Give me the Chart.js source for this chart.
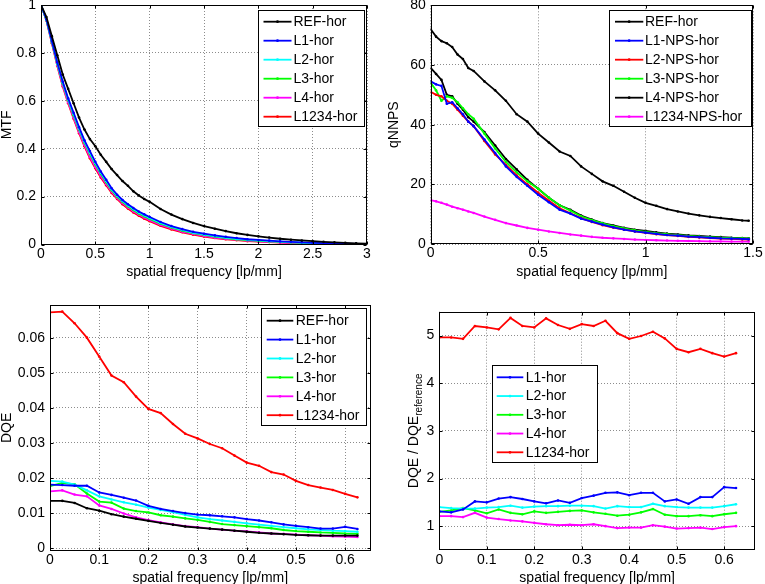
<!DOCTYPE html>
<html><head><meta charset="utf-8">
<script src="https://cdn.jsdelivr.net/npm/chart.js@4.4.0/dist/chart.umd.min.js"></script>
<style>
html,body{margin:0;padding:0;background:#fff;overflow:hidden;width:765px;height:584px;position:relative}
canvas{position:absolute}
</style></head><body>
<canvas id="c1" width="383" height="290" style="left:0px;top:0px"></canvas>
<canvas id="c2" width="382" height="290" style="left:383px;top:0px"></canvas>
<canvas id="c3" width="383" height="310" style="left:0px;top:290px"></canvas>
<canvas id="c4" width="382" height="310" style="left:383px;top:290px"></canvas>
<script>
// ---------------- DATA ----------------
// Panel 1: MTF
const mtfFreq = [0,0.05,0.1,0.15,0.2,0.25,0.3,0.35,0.4,0.45,0.5,0.55,0.6,0.65,0.7,0.75,0.8,0.85,0.9,0.95,1.0,
  1.1,1.2,1.3,1.4,1.5,1.6,1.7,1.8,1.9,2.0,2.1,2.2,2.3,2.4,2.5,2.6,2.7,2.8,2.9,3.0];
const mtfREF = [1,0.95,0.87,0.79,0.71,0.65,0.59,0.53,0.48,0.44,0.41,0.375,0.345,0.315,0.29,0.265,0.245,0.222,0.205,0.19,0.178,
  0.148,0.125,0.106,0.09,0.077,0.066,0.056,0.047,0.04,0.034,0.029,0.024,0.02,0.017,0.014,0.011,0.009,0.007,0.005,0.004];
const mtfL1 = [1,0.94,0.85,0.76,0.68,0.61,0.55,0.49,0.435,0.39,0.345,0.305,0.27,0.235,0.208,0.186,0.168,0.152,0.138,0.126,0.115,
  0.094,0.077,0.064,0.053,0.045,0.038,0.032,0.027,0.022,0.019,0.016,0.013,0.011,0.009,0.007,0.006,0.005,0.004,0.003,0.002];
const mtfL2 = [1,0.938,0.848,0.757,0.676,0.606,0.545,0.485,0.43,0.384,0.34,0.3,0.265,0.231,0.204,0.182,0.164,0.148,0.134,0.122,0.111,
  0.09,0.074,0.061,0.05,0.042,0.035,0.029,0.024,0.02,0.017,0.014,0.012,0.01,0.008,0.006,0.005,0.004,0.003,0.003,0.002];
const mtfL3 = [1,0.937,0.846,0.754,0.672,0.602,0.54,0.48,0.425,0.378,0.335,0.295,0.26,0.227,0.2,0.178,0.16,0.144,0.13,0.118,0.107,
  0.087,0.071,0.058,0.048,0.04,0.033,0.027,0.022,0.018,0.015,0.013,0.011,0.009,0.007,0.006,0.005,0.004,0.003,0.002,0.002];
const mtfL4 = [1,0.936,0.842,0.748,0.664,0.594,0.53,0.47,0.416,0.366,0.324,0.286,0.253,0.221,0.195,0.173,0.155,0.139,0.125,0.113,0.102,
  0.082,0.067,0.054,0.044,0.036,0.029,0.024,0.02,0.016,0.013,0.011,0.009,0.007,0.006,0.005,0.004,0.003,0.003,0.002,0.002];
const mtfL1234 = [1,0.935,0.84,0.745,0.66,0.59,0.525,0.465,0.41,0.36,0.318,0.28,0.247,0.215,0.19,0.168,0.15,0.134,0.12,0.108,0.097,
  0.078,0.063,0.051,0.041,0.033,0.027,0.022,0.018,0.014,0.012,0.01,0.008,0.006,0.005,0.004,0.003,0.003,0.002,0.002,0.001];

// Panel 2: qNNPS
const npsFreq = [0,0.025,0.05,0.075,0.1,0.125,0.15,0.175,0.2,0.25,0.3,0.35,0.4,0.45,0.5,0.55,0.6,0.65,0.7,0.75,0.8,0.85,0.9,0.95,1.0,
  1.05,1.1,1.15,1.2,1.25,1.3,1.35,1.4,1.45,1.48];
const npsREF = [72,69.5,68,67.3,66,63.5,62,59,58,54.5,51.5,48,43.5,41,37,34,31,29.5,26,23.5,21,19.5,17.5,15.5,13.8,
  12.8,11.7,10.9,10.2,9.6,9.1,8.7,8.3,7.9,7.8];
const npsL1 = [54.5,53.5,53,47,47.5,45.5,43.5,41,39.5,35,30.5,26,22.5,19.5,16.5,14,11.5,10.2,8.5,7.5,6.5,5.6,4.8,4.2,3.8,
  3.4,3.0,2.8,2.5,2.3,2.1,1.9,1.8,1.7,1.6];
const npsL2 = [51,50,49.5,48,47,45,43,41,39.5,34.5,30,26.5,23,20,17.2,14.5,12,10.3,8.7,7.4,6.3,5.5,4.8,4.2,3.7,
  3.3,3.0,2.7,2.4,2.2,2.0,1.8,1.7,1.6,1.5];
const npsL3 = [54,51.5,48,49.5,49,47.5,45.5,43.5,42,37,32,27.5,24,21,18.5,15.5,13,11.2,9.3,8,6.9,6.0,5.2,4.6,4.1,
  3.6,3.3,3.0,2.7,2.5,2.3,2.1,2.0,1.9,1.8];
const npsL4 = [59,57,55,50,49.5,47,45,42.5,41,37.5,33,28.5,25,21.5,18.5,15.5,13,11.5,9.5,8.2,7,6.2,5.4,4.8,4.4,
  3.9,3.5,3.2,2.9,2.7,2.5,2.3,2.1,2.0,1.9];
const npsL1234 = [14.7,14.3,13.8,13.2,12.5,12.0,11.5,10.9,10.4,9.2,8.1,7.0,6.2,5.4,4.8,4.2,3.7,3.2,2.8,2.4,2.1,1.9,1.7,1.5,1.35,
  1.25,1.15,1.05,1.0,0.95,0.9,0.85,0.8,0.8,0.8];

// Panel 3: DQE
const dqeFreq = [0,0.025,0.05,0.075,0.1,0.125,0.15,0.175,0.2,0.225,0.25,0.275,0.3,0.325,0.35,0.375,0.4,0.425,0.45,0.475,0.5,0.525,0.55,0.575,0.6,0.625];
const dqeREF = [0.0135,0.0135,0.0129,0.0114,0.0107,0.0097,0.0090,0.0084,0.0078,0.0072,0.0067,0.0062,0.0059,0.0056,0.0053,0.0050,0.0047,0.0044,0.0042,0.0040,0.0038,0.0037,0.0036,0.0036,0.0036,0.0036];
const dqeL1 = [0.0181,0.0180,0.0178,0.0178,0.0159,0.0152,0.0144,0.0136,0.0121,0.0112,0.0106,0.0100,0.0096,0.0094,0.0091,0.0088,0.0083,0.0079,0.0074,0.0068,0.0064,0.0060,0.0056,0.0056,0.0061,0.0055];
const dqeL2 = [0.0192,0.0190,0.0181,0.0165,0.0148,0.0139,0.0131,0.0124,0.0116,0.0109,0.0103,0.0095,0.0088,0.0083,0.0079,0.0075,0.0071,0.0067,0.0064,0.0060,0.0057,0.0054,0.0052,0.0050,0.0049,0.0047];
const dqeL3 = [0.0177,0.0186,0.0182,0.0156,0.0133,0.0130,0.0113,0.0106,0.0102,0.0094,0.0090,0.0085,0.0081,0.0075,0.0069,0.0066,0.0063,0.0060,0.0057,0.0052,0.0049,0.0047,0.0045,0.0044,0.0042,0.0041];
const dqeL4 = [0.0162,0.0165,0.0153,0.0148,0.0122,0.0112,0.0099,0.0088,0.0080,0.0074,0.0068,0.0063,0.0060,0.0056,0.0053,0.0050,0.0048,0.0045,0.0042,0.0041,0.0039,0.0037,0.0036,0.0034,0.0033,0.0032];
const dqeL1234 = [0.0672,0.0674,0.0641,0.0600,0.0546,0.0492,0.0473,0.0432,0.0397,0.0385,0.0354,0.0326,0.0313,0.0297,0.0285,0.0264,0.0244,0.0235,0.0217,0.0210,0.0192,0.0180,0.0173,0.0166,0.0155,0.0145];

// Panel 4: DQE / DQE_reference
const ratioFreq = dqeFreq;
const ratioL1 = [1.31,1.29,1.35,1.52,1.50,1.58,1.61,1.57,1.52,1.48,1.54,1.49,1.59,1.64,1.70,1.71,1.65,1.70,1.70,1.52,1.56,1.47,1.61,1.61,1.82,1.80];
const ratioL2 = [1.40,1.38,1.37,1.37,1.39,1.40,1.43,1.39,1.41,1.42,1.42,1.43,1.43,1.42,1.37,1.42,1.40,1.40,1.47,1.42,1.40,1.39,1.39,1.39,1.42,1.46];
const ratioL3 = [1.30,1.33,1.38,1.33,1.27,1.35,1.28,1.25,1.31,1.28,1.30,1.32,1.33,1.29,1.26,1.22,1.24,1.29,1.36,1.24,1.21,1.21,1.23,1.21,1.25,1.28];
const ratioL4 = [1.21,1.21,1.19,1.28,1.18,1.15,1.12,1.10,1.07,1.04,1.02,1.03,1.02,1.04,1.00,0.96,0.97,0.97,1.02,0.99,0.95,0.96,0.97,0.94,0.98,1.00];
const ratioL1234 = [4.96,4.96,4.93,5.20,5.17,5.13,5.37,5.20,5.17,5.36,5.22,5.14,5.24,5.20,5.31,5.05,4.93,4.99,5.08,4.94,4.72,4.65,4.72,4.63,4.56,4.63];

// Ticks
const p1XTicks = [0,0.5,1,1.5,2,2.5,3], p1XLabels = ['0','0.5','1','1.5','2','2.5','3'];
const p1YTicks = [0,0.2,0.4,0.6,0.8,1], p1YLabels = ['0','0.2','0.4','0.6','0.8','1'];
const p2XTicks = [0,0.5,1,1.5], p2XLabels = ['0','0.5','1','1.5'];
const p2YTicks = [0,20,40,60,80], p2YLabels = ['0','20','40','60','80'];
const p3XTicks = [0,0.1,0.2,0.3,0.4,0.5,0.6], p3XLabels = ['0','0.1','0.2','0.3','0.4','0.5','0.6'];
const p3YTicks = [0,0.01,0.02,0.03,0.04,0.05,0.06], p3YLabels = ['0','0.01','0.02','0.03','0.04','0.05','0.06'];
const p4XTicks = [0,0.1,0.2,0.3,0.4,0.5,0.6], p4XLabels = ['0','0.1','0.2','0.3','0.4','0.5','0.6'];
const p4YTicks = [1,2,3,4,5], p4YLabels = ['1','2','3','4','5'];

// ---------------- RENDER ----------------
const FONT = "'Liberation Sans', Arial, Helvetica, sans-serif";
const BLACK='#000000', BLUE='#0000ff', CYAN='#00ffff', GREEN='#00ff00', MAGENTA='#ff00ff', RED='#ff0000';

function ds(label, color, xs, ys){
  return { label, data: xs.map((x,i)=>({x:x, y:ys[i]})), borderColor: color, backgroundColor: color,
    borderWidth: 1.8, pointRadius: 1.3, pointHoverRadius: 0, pointBorderWidth: 0,
    pointBackgroundColor: color, tension: 0, fill: false };
}

const framePlugin = {
  id: 'frame',
  afterDatasetsDraw(chart){
    const {ctx, chartArea:a, scales} = chart;
    const L=Math.round(a.left)+0.5, R=Math.round(a.right)-0.5, T=Math.round(a.top)+0.5, B=Math.round(a.bottom)-0.5;
    ctx.save(); ctx.setLineDash([]); ctx.strokeStyle='#000'; ctx.lineWidth=1;
    ctx.beginPath();
    scales.x.ticks.forEach(t=>{ const p=Math.round(scales.x.getPixelForValue(t.value))+0.5;
      ctx.moveTo(p,B); ctx.lineTo(p,B-3); ctx.moveTo(p,T); ctx.lineTo(p,T+3); });
    scales.y.ticks.forEach(t=>{ const p=Math.round(scales.y.getPixelForValue(t.value))+0.5;
      ctx.moveTo(L,p); ctx.lineTo(L+3,p); ctx.moveTo(R,p); ctx.lineTo(R-3,p); });
    ctx.stroke();
    ctx.strokeRect(L,T,R-L,B-T);
    ctx.restore();
  }
};

const legendPlugin = {
  id: 'boxLegend',
  afterDraw(chart, args, o){
    if(!o || !o.box) return;
    const ctx = chart.ctx, b=o.box;
    ctx.save(); ctx.setLineDash([]);
    ctx.fillStyle='#fff'; ctx.fillRect(b.x,b.y,b.w,b.h);
    ctx.strokeStyle='#000'; ctx.lineWidth=1;
    ctx.strokeRect(Math.round(b.x)+0.5, Math.round(b.y)+0.5, Math.round(b.w), Math.round(b.h));
    ctx.font = '14px ' + FONT; ctx.textBaseline='middle'; ctx.textAlign='left';
    chart.data.datasets.forEach((d,i)=>{
      const y = b.y + b.row0 + i*b.rowH;
      ctx.strokeStyle=d.borderColor; ctx.lineWidth=1.8;
      ctx.beginPath(); ctx.moveTo(b.l1,y); ctx.lineTo(b.l2,y); ctx.stroke();
      ctx.fillStyle=d.borderColor; ctx.beginPath(); ctx.arc((b.l1+b.l2)/2,y,1.4,0,Math.PI*2); ctx.fill();
      ctx.fillStyle='#000'; ctx.fillText(d.label, b.tx, y+0.5);
    });
    ctx.restore();
  }
};

const subTitlePlugin = {
  id: 'subTitle',
  afterDraw(chart, args, o){
    if(!o || !o.main) return;
    const ctx = chart.ctx;
    ctx.save();
    ctx.fillStyle='#000'; ctx.textBaseline='alphabetic'; ctx.textAlign='left';
    const f1='14px '+FONT, f2='10px '+FONT;
    ctx.font=f1; const w1=ctx.measureText(o.main).width;
    ctx.font=f2; const w2=ctx.measureText(o.sub).width;
    const a=chart.chartArea, cy=(a.top+a.bottom)/2;
    ctx.translate(o.x, cy + (w1+w2)/2);
    ctx.rotate(-Math.PI/2);
    ctx.font=f1; ctx.fillText(o.main, 0, 0);
    ctx.font=f2; ctx.fillText(o.sub, w1, 4);
    ctx.restore();
  }
};

function makeChart(id, c){
  const tickFont = {family: FONT, size: 14};
  return new Chart(document.getElementById(id), {
    type: 'line',
    data: { datasets: c.datasets },
    plugins: [framePlugin, legendPlugin, subTitlePlugin],
    options: {
      responsive: false, animation: false, events: [], devicePixelRatio: 1,
      layout: { padding: c.pad },
      plugins: { legend:{display:false}, tooltip:{enabled:false}, boxLegend: c.legend, subTitle: c.sub || {} },
      scales: {
        x: { type:'linear', min:c.xr[0], max:c.xr[1], bounds:'data',
          afterBuildTicks: s=>{ s.ticks = c.xt.map(v=>({value:v})); },
          afterFit: s=>{ s.height=c.xh; s.paddingLeft=0; s.paddingRight=0; s.paddingTop=0; s.paddingBottom=0; },
          ticks: { autoSkip:false, maxRotation:0, minRotation:0, padding:c.xpad, color:'#000', font: tickFont,
            callback:(v,i)=>c.xl[i] },
          grid: { color:'#8c8c8c', lineWidth:1, drawTicks:false },
          border: { display:false, dash:[1,2] },
          title: { display:true, text:c.xTitle, color:'#000', font:{family:FONT,size:14,lineHeight:1}, padding:{top:0,bottom:c.xtp} }
        },
        y: { type:'linear', min:c.yr[0], max:c.yr[1], bounds:'data',
          afterBuildTicks: s=>{ s.ticks = c.yt.map(v=>({value:v})); },
          afterFit: s=>{ s.width=c.yw; s.paddingLeft=0; s.paddingRight=0; s.paddingTop=0; s.paddingBottom=0; },
          ticks: { autoSkip:false, padding:5, color:'#000', font: tickFont, callback:(v,i)=>c.yl[i] },
          grid: { color:'#8c8c8c', lineWidth:1, drawTicks:false },
          border: { display:false, dash:[1,2] },
          title: { display: !!c.yTitle, text:c.yTitle || '', color:'#000', font:{family:FONT,size:14,lineHeight:1}, padding:{top:c.ytp,bottom:0} }
        }
      }
    }
  });
}

makeChart('c1', {
  datasets: [ ds('REF-hor',BLACK,mtfFreq,mtfREF), ds('L1-hor',BLUE,mtfFreq,mtfL1), ds('L2-hor',CYAN,mtfFreq,mtfL2),
    ds('L3-hor',GREEN,mtfFreq,mtfL3), ds('L4-hor',MAGENTA,mtfFreq,mtfL4), ds('L1234-hor',RED,mtfFreq,mtfL1234) ],
  pad:{left:0,top:5,right:16,bottom:0}, yw:41, xh:45.5,
  xr:[0,3], yr:[0,1], xt:p1XTicks, xl:p1XLabels, yt:p1YTicks, yl:p1YLabels, xpad:1,
  xTitle:'spatial frequency [lp/mm]', xtp:11, yTitle:'MTF', ytp:0,
  legend:{box:{x:258,y:10,w:106,h:116,row0:11.7,rowH:19,l1:263.5,l2:291.5,tx:293.5}}
});
makeChart('c2', {
  datasets: [ ds('REF-hor',BLACK,npsFreq,npsREF), ds('L1-NPS-hor',BLUE,npsFreq,npsL1), ds('L2-NPS-hor',RED,npsFreq,npsL2),
    ds('L3-NPS-hor',GREEN,npsFreq,npsL3), ds('L4-NPS-hor',BLACK,npsFreq,npsL4), ds('L1234-NPS-hor',MAGENTA,npsFreq,npsL1234) ],
  pad:{left:0,top:5.3,right:12,bottom:0}, yw:47.7, xh:46,
  xr:[0,1.5], yr:[0,80], xt:p2XTicks, xl:p2XLabels, yt:p2YTicks, yl:p2YLabels, xpad:1,
  xTitle:'spatial fequency [lp/mm]', xtp:11, yTitle:'qNNPS', ytp:4,
  legend:{box:{x:226.3,y:10,w:142.4,h:116,row0:11.7,rowH:19,l1:232,l2:260.3,tx:262}}
});
makeChart('c3', {
  datasets: [ ds('REF-hor',BLACK,dqeFreq,dqeREF), ds('L1-hor',BLUE,dqeFreq,dqeL1), ds('L2-hor',CYAN,dqeFreq,dqeL2),
    ds('L3-hor',GREEN,dqeFreq,dqeL3), ds('L4-hor',MAGENTA,dqeFreq,dqeL4), ds('L1234-hor',RED,dqeFreq,dqeL1234) ],
  pad:{left:0,top:15,right:12.3,bottom:0}, yw:50, xh:49.3,
  xr:[0,0.652], yr:[-0.0007,0.0693], xt:p3XTicks, xl:p3XLabels, yt:p3YTicks, yl:p3YLabels, xpad:1,
  xTitle:'spatial frequency [lp/mm]', xtp:15, yTitle:'DQE', ytp:0,
  legend:{box:{x:260.7,y:18.3,w:105.3,h:116.7,row0:12.4,rowH:18.9,l1:266.7,l2:293.3,tx:295.7}}
});
makeChart('c4', {
  datasets: [ ds('L1-hor',BLUE,ratioFreq,ratioL1), ds('L2-hor',CYAN,ratioFreq,ratioL2), ds('L3-hor',GREEN,ratioFreq,ratioL3),
    ds('L4-hor',MAGENTA,ratioFreq,ratioL4), ds('L1234-hor',RED,ratioFreq,ratioL1234) ],
  pad:{left:0,top:21.7,right:10,bottom:0}, yw:56.3, xh:50,
  xr:[0,0.665], yr:[0.5,5.5], xt:p4XTicks, xl:p4XLabels, yt:p4YTicks, yl:p4YLabels, xpad:2,
  xTitle:'spatial frequency [lp/mm]', xtp:15, yTitle:'', ytp:0,
  sub:{main:'DQE / DQE', sub:'reference', x:35.3},
  legend:{box:{x:108.7,y:75,w:105.3,h:96.7,row0:12.3,rowH:18.75,l1:113.7,l2:140.3,tx:142.7}}
});
</script>
</body></html>
